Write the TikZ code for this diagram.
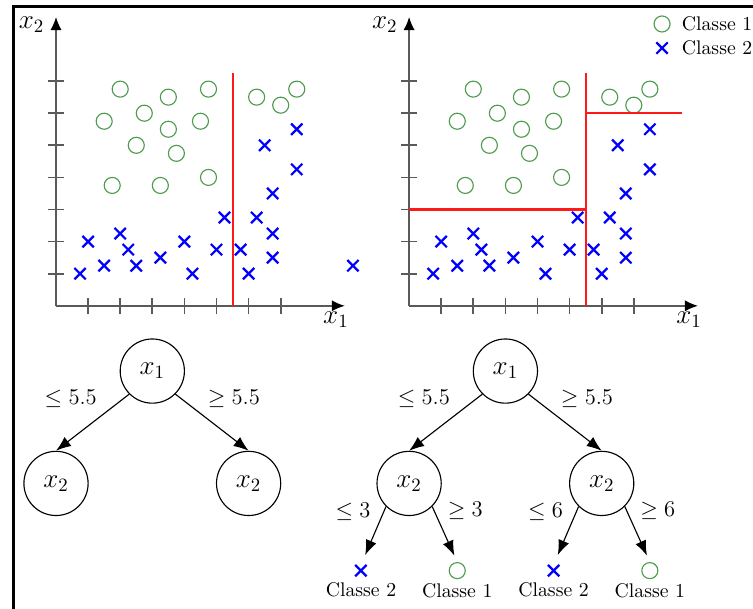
\documentclass[tikz,border=0pt]{standalone}
\usepackage{xcolor}
\usepackage{tikz}
\usetikzlibrary{arrows.meta,shapes.misc,positioning}
\definecolor{classeun}{HTML}{4E9A4E}
\definecolor{classedeux}{HTML}{0000FF}
\definecolor{axe}{HTML}{5A5A5A}
\definecolor{rouge}{HTML}{FF1A1A}
\newcommand\listeun{2/6.75,3.5/6.5,4.75/6.75,1.5/5.75,2.75/6,3.5/5.5,4.5/5.75,2.5/5,3.75/4.75,1.75/3.75,3.25/3.75,4.75/4,6.25/6.5,7/6.25,7.5/6.75}
\newcommand\listedeux{0.75/1,1/2,1.5/1.25,2/2.25,2.25/1.75,2.5/1.25,3.25/1.5,4/2,4.25/1,5/1.75,5.25/2.75,5.75/1.75,6/1,6.25/2.75,6.75/2.25,6.75/1.5,6.75/3.5,7.5/4.25,7.5/5.5,6.5/5}

\begin{document}
\begin{tikzpicture}[>={Latex[length=7pt,width=6pt]},
  rond/.style={circle, draw=classeun, semithick, inner sep=0pt, minimum size=0.3cm},
  croix/.style={cross out, draw=classedeux, line width=1.2pt, inner sep=0pt, minimum size=0.17cm},
  axes/.style={draw=axe, line width=0.9pt, -{Latex[length=7pt,width=6pt,color=black]}},
  graduation/.style={draw=axe, line width=0.9pt},
  coupe/.style={draw=rouge, line width=1.1pt},
  noeud/.style={circle, draw, semithick, minimum size=1.2cm, font=\Large},
  branche/.style={semithick, -{Latex[length=8pt,width=6pt]}},
  seuil/.style={font=\fontsize{13}{15}\selectfont, pos=0.35},
  classe/.style={font=\fontsize{10.5}{12}\selectfont}]

  \useasboundingbox (-1.047,-5.667) rectangle (13.028,5.716);
  \draw[line width=1.3pt] (-0.794,-5.667) -- (-0.794,5.594) -- (13.028,5.594);

  \foreach \dx/\p in {0/g,6.6/d} {
    \begin{scope}[xshift=\dx cm, x=0.6cm, y=0.6cm]
      \draw[axes] (0,0) -- (9,0);
      \draw[axes] (0,0) -- (0,9);
      \foreach \i in {1,...,7} {
        \draw[graduation] (\i,-0.25) -- (\i,0.25);
        \draw[graduation] (-0.25,\i) -- (0.25,\i);
      }
      \node[font=\Large] (x1\p) at (8.72,-0.44) {$x_1$};
      \node[font=\Large] (x2\p) at (-0.76,8.75) {$x_2$};
      \foreach \a/\b [count=\k] in \listeun
        \node[rond] (c\p\k) at (\a,\b) {};
      \foreach \a/\b [count=\k] in \listedeux
        \node[croix] (x\p\k) at (\a,\b) {};
    \end{scope}
  }

  \begin{scope}[x=0.6cm, y=0.6cm]
    \draw[coupe] (5.5,0) -- (5.5,7.25);
    \node[croix] (xg21) at (9.25,1.25) {};
  \end{scope}

  \begin{scope}[xshift=6.6cm, x=0.6cm, y=0.6cm]
    \draw[coupe] (5.5,0) -- (5.5,7.25);
    \draw[coupe] (0,3) -- (5.5,3);
    \draw[coupe] (5.5,6) -- (8.5,6);
    \node[rond] (leg1) at (7.88,8.78) {};
    \node[classe, anchor=west] (tleg1) at (8.29,8.78) {Classe 1};
    \node[croix] (leg2) at (7.88,8.03) {};
    \node[classe, anchor=west] (tleg2) at (8.29,8.03) {Classe 2};
  \end{scope}

  \node[noeud] (r1) at (1.8,-1.22) {$x_1$};
  \node[noeud] (r1a) at (0,-3.32) {$x_2$};
  \node[noeud] (r1b) at (3.6,-3.32) {$x_2$};
  \draw[branche] (r1.south west) -- (r1a.north) node[seuil, above left] {$\le 5.5$};
  \draw[branche] (r1.south east) -- (r1b.north) node[seuil, above right] {$\ge 5.5$};

  \node[noeud] (r2) at (8.4,-1.22) {$x_1$};
  \node[noeud] (r2a) at (6.6,-3.32) {$x_2$};
  \node[noeud] (r2b) at (10.2,-3.32) {$x_2$};
  \draw[branche] (r2.south west) -- (r2a.north) node[seuil, above left] {$\le 5.5$};
  \draw[branche] (r2.south east) -- (r2b.north) node[seuil, above right] {$\ge 5.5$};

  \node[croix, label={[classe]below:Classe 2}] (f1) at (5.7,-4.95) {};
  \node[rond, label={[classe, label distance=-1pt]below:Classe 1}] (f2) at (7.5,-4.95) {};
  \node[croix, label={[classe]below:Classe 2}] (f3) at (9.3,-4.95) {};
  \node[rond, label={[classe, label distance=-1pt]below:Classe 1}] (f4) at (11.1,-4.95) {};
  \draw[branche, shorten >=0.2cm] (r2a.south west) -- (f1.north) node[seuil, above left] {$\le 3$};
  \draw[branche, shorten >=0.13cm] (r2a.south east) -- (f2.north) node[seuil, above right] {$\ge 3$};
  \draw[branche, shorten >=0.2cm] (r2b.south west) -- (f3.north) node[seuil, above left] {$\le 6$};
  \draw[branche, shorten >=0.13cm] (r2b.south east) -- (f4.north) node[seuil, above right] {$\ge 6$};
\end{tikzpicture}
\end{document}
